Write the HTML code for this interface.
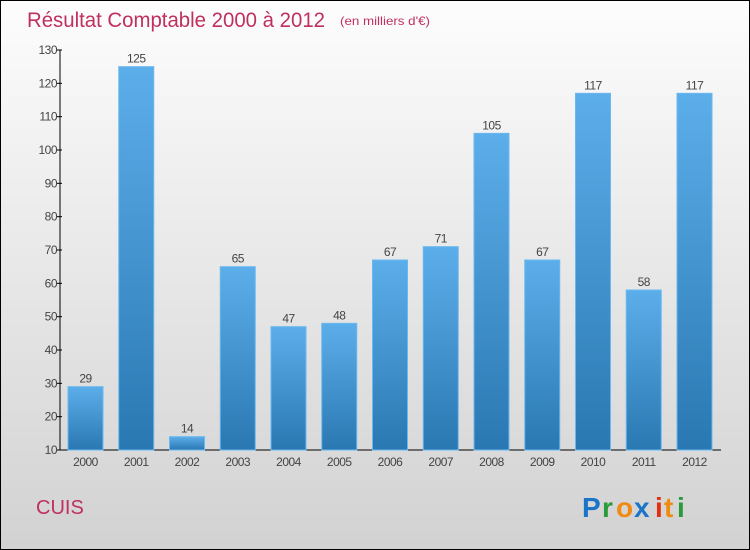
<!DOCTYPE html>
<html><head><meta charset="utf-8"><style>
body{margin:0}
#c{width:750px;height:550px;position:relative;box-sizing:border-box;border:1px solid #000;background:linear-gradient(#fdfdfd,#f4f4f4 20%,#d2d2d2);font-family:"Liberation Sans",sans-serif;overflow:hidden}
</style></head><body>
<div id="c">
<svg width="750" height="550" style="position:absolute;left:-1px;top:-1px">
<defs><linearGradient id="g" x1="0" y1="0" x2="0" y2="1"><stop offset="0" stop-color="#5caeea"/><stop offset="1" stop-color="#2a78b2"/></linearGradient></defs>
<text x="27" y="27" font-size="21" fill="#c0305e" textLength="298" lengthAdjust="spacingAndGlyphs">Résultat Comptable 2000 à 2012</text>
<text x="340" y="25" font-size="12" fill="#c0305e" textLength="90" lengthAdjust="spacingAndGlyphs">(en milliers d'€)</text>
<text x="36" y="514" font-size="20" fill="#c0305e">CUIS</text>
<g font-size="28" font-weight="bold"><text x="582" y="517" fill="#1a74c8">P</text><text x="602" y="517" fill="#2a9a3a">r</text><text x="616" y="517" fill="#f08a10">o</text><text x="634" y="517" fill="#1a74c8">x</text><text x="655" y="517" fill="#e03010">i</text><text x="664" y="517" fill="#f08a10">t</text><text x="677" y="517" fill="#2a9a3a">i</text></g>
<g id="plot"></g>
</svg>
</div>
<script>
const categories=["2000","2001","2002","2003","2004","2005","2006","2007","2008","2009","2010","2011","2012"];
const values=[29,125,14,65,47,48,67,71,105,67,117,58,117];
const yTicks=[10,20,30,40,50,60,70,80,90,100,110,120,130];
const ns="http://www.w3.org/2000/svg";
const p=document.getElementById('plot');
const y=v=>450-(v-10)*400/120;
const x=i=>85.5+i*50.75;
function mk(t,a){const e=document.createElementNS(ns,t);for(const k in a)e.setAttribute(k,a[k]);p.appendChild(e);return e;}
let ax=mk('line',{x1:60,y1:50,x2:60,y2:450,stroke:'#000'});


let bx=mk('line',{x1:60,y1:450,x2:721,y2:450,stroke:'#000'});


yTicks.forEach(t=>{
 let l=mk('line',{x1:57,y1:y(t),x2:62,y2:y(t),stroke:'#000'});
 
 
 let tx=mk('text',{x:57,y:y(t)+4,'font-size':12,'text-anchor':'end',fill:'#444','letter-spacing':'-0.5'});
 tx.textContent=t;
 
 
});
values.forEach((v,i)=>{
 let r=mk('rect',{x:x(i)-17.5,y:y(v),width:35,height:450-y(v),fill:'url(#g)',stroke:'#6ab8f0','stroke-width':1});
 
 
 let vl=mk('text',{x:x(i),y:y(v)-4,'font-size':12,'text-anchor':'middle',fill:'#444','letter-spacing':'-0.5'});
 vl.textContent=v;
 
 
 let cl=mk('text',{x:x(i),y:466,'font-size':12,'text-anchor':'middle',fill:'#444','letter-spacing':'-0.5'});
 cl.textContent=categories[i];
 
 
});
</script>
</body></html>
